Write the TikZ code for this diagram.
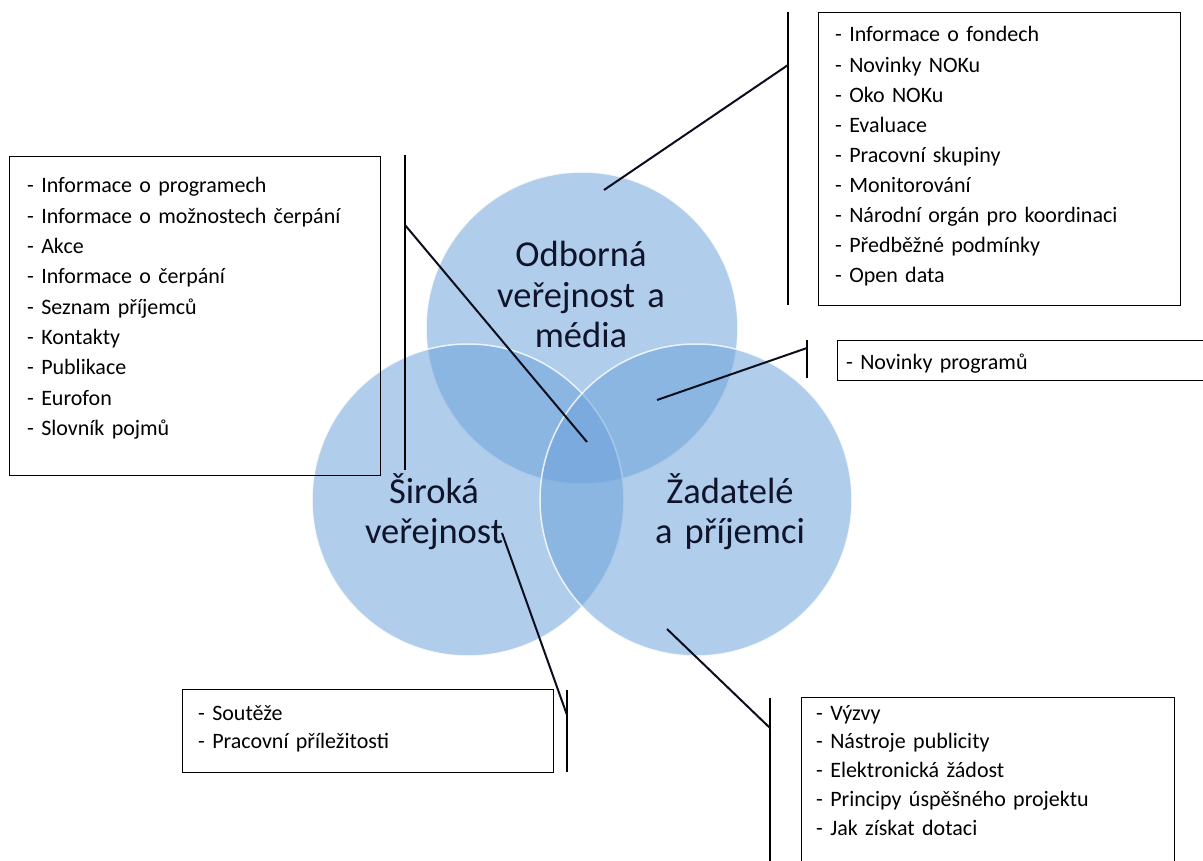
\documentclass[tikz,border=0pt]{standalone}
\usepackage{fontspec}
\setmainfont{Carlito}[WordSpace=0.8]
\begin{document}
\begin{tikzpicture}[x=1pt, y=-1pt,
    venn/.style={circle, minimum size=312pt, inner sep=0pt,
      fill={rgb,255:red,109;green,162;blue,218}, fill opacity=0.54,
      draw=white, draw opacity=0.8, line width=1.5pt},
    vennlabel/.style={anchor=base, text width=240pt, align=center, inner sep=0pt,
      text={rgb,255:red,16;green,20;blue,42}, font=\fontsize{36.5}{40.5}\selectfont},
    listbox/.style={draw=black, line width=1.3pt, inner sep=0pt, anchor=north west},
    listtext/.style={anchor=base west, text width=340pt, align=left, inner sep=0pt},
    pointer/.style={line width=2pt, draw={rgb,255:red,12;green,14;blue,30}},
    bracket/.style={line width=1.4pt, draw=black}]
  \useasboundingbox (0,0) rectangle (1203,861);

  % circles
  \node[venn] (odborna) at (582,328) {};
  \node[venn] (siroka) at (468,500) {};
  \node[venn] (zadatele) at (696,500) {};
  \node[vennlabel] (odbornatxt) at (581,267) {Odborná\\veřejnost a\\média};
  \node[vennlabel] (sirokatxt) at (434,503) {Široká\\veřejnost};
  \node[vennlabel] (zadateletxt) at (730,503) {Žadatelé\\a příjemci};

  % boxes
  \node[listbox, minimum width=371pt, minimum height=319pt] (obecne) at (9,156) {};
  \node[listtext, font=\fontsize{22}{30.3}\selectfont] (obecnetxt) at (27,193)
    {- Informace o programech\\- Informace o možnostech čerpání\\- Akce\\- Informace o čerpání\\- Seznam příjemců\\- Kontakty\\- Publikace\\- Eurofon\\- Slovník pojmů};
  \node[listbox, minimum width=362pt, minimum height=293pt] (odborne) at (818,12) {};
  \node[listtext, font=\fontsize{22}{30.1}\selectfont] (odbornetxt) at (835,42)
    {- Informace o fondech\\- Novinky NOKu\\- Oko NOKu\\- Evaluace\\- Pracovní skupiny\\- Monitorování\\- Národní orgán pro koordinaci\\- Předběžné podmínky\\- Open data};
  \node[listbox, minimum width=380pt, minimum height=40pt] (spolecne) at (837,340) {};
  \node[listtext, font=\fontsize{22}{30}\selectfont] (spolecnetxt) at (846,370) {- Novinky programů};
  \node[listbox, minimum width=371pt, minimum height=83pt] (verejne) at (182,689) {};
  \node[listtext, font=\fontsize{22}{28.3}\selectfont] (verejnetxt) at (198,720)
    {- Soutěže\\- Pracovní příležitosti};
  \node[listbox, minimum width=373pt, minimum height=180pt] (zadatelske) at (801,697) {};
  \node[listtext, font=\fontsize{22}{28.75}\selectfont] (zadatelsketxt) at (816,720)
    {- Výzvy\\- Nástroje publicity\\- Elektronická žádost\\- Principy úspěšného projektu\\- Jak získat dotaci};

  % brackets
  \coordinate (b1a) at (405,155);  \coordinate (b1b) at (405,470);  \coordinate (b1c) at (405,225);
  \coordinate (b2a) at (788,12);   \coordinate (b2b) at (788,305);  \coordinate (b2c) at (788,65);
  \coordinate (b3a) at (807,340);  \coordinate (b3b) at (807,378);  \coordinate (b3c) at (807,348);
  \coordinate (b4a) at (567,690);  \coordinate (b4b) at (567,772);  \coordinate (b4c) at (567,715);
  \coordinate (b5a) at (770,698);  \coordinate (b5b) at (770,870);  \coordinate (b5c) at (770,728);
  \foreach \b in {b1,b2,b3,b4,b5}
    \draw[bracket] (\b a) -- (\b b);

  % pointers
  \coordinate (p1) at (587,442);
  \coordinate (p2) at (604,190);
  \coordinate (p3) at (657,400);
  \coordinate (p4) at (502,533);
  \coordinate (p5) at (667,629);
  \draw[pointer] (b1c) -- (p1);
  \draw[pointer] (b2c) -- (p2);
  \draw[pointer] (b3c) -- (p3);
  \draw[pointer] (b4c) -- (p4);
  \draw[pointer] (b5c) -- (p5);
\end{tikzpicture}
\end{document}
